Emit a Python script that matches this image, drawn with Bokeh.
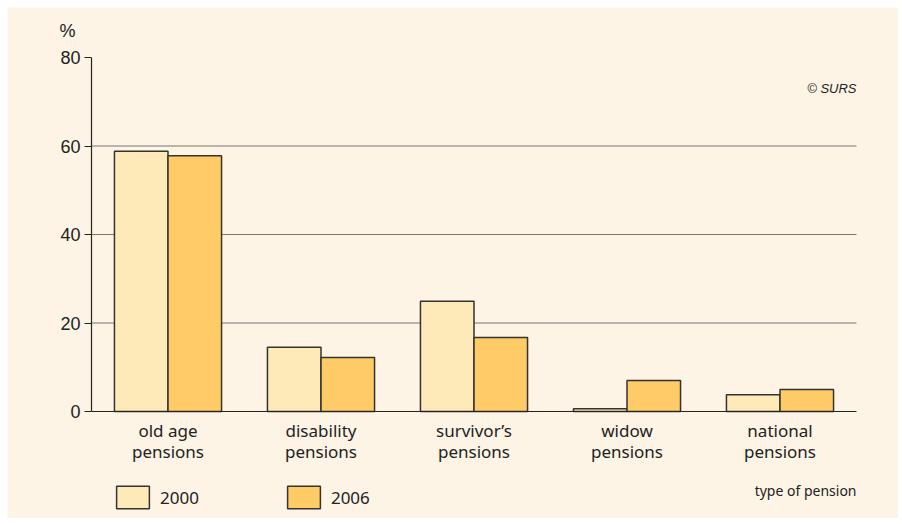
from bokeh.plotting import figure
from bokeh.models import (Range1d, FixedTicker, Label, Legend, LegendItem, ColumnDataSource)
from bokeh.embed import file_html
from bokeh.resources import INLINE

categories = ["old age\npensions", "disability\npensions", "survivor\u2019s\npensions",
              "widow\npensions", "national\npensions"]
positions = [0.5, 1.5, 2.5, 3.5, 4.5]
values_2000 = [58.8, 14.5, 24.9, 0.6, 3.8]
values_2006 = [57.8, 12.2, 16.7, 7.0, 5.0]
y_ticks = [0, 20, 40, 60, 80]
grid_ticks = [20, 40, 60]

BG = "#FDF4E5"
C2000 = "#FEE9B8"
C2006 = "#FECB66"
LINE = "#333333"

W, H = 891, 511
FL, FR, FT, FB = 84, 849, 50, 404   # where data (0..5, 0..80) sits on the canvas
xs = 5 / (FR - FL)
ys = 80 / (FB - FT)

p = figure(width=W, height=H, output_backend="svg", toolbar_location=None,
           x_range=Range1d(-FL * xs, 5 + (W - FR) * xs),
           y_range=Range1d(-(H - FB) * ys, 80 + FT * ys),
           min_border=0, min_border_left=0, min_border_right=0,
           min_border_top=0, min_border_bottom=0, margin=(7, 0, 0, 7))
p.background_fill_color = BG
p.border_fill_color = BG
p.outline_line_color = None
p.xgrid.visible = False
p.ygrid.visible = False

# gridlines
p.segment(x0=[0] * len(grid_ticks), x1=[5] * len(grid_ticks), y0=grid_ticks, y1=grid_ticks,
          line_color="#777777", line_width=1.2)

bw = 0.35
src1 = ColumnDataSource(dict(x=[c - bw / 2 for c in positions], top=values_2000))
src2 = ColumnDataSource(dict(x=[c + bw / 2 for c in positions], top=values_2006))
r1 = p.vbar(x="x", top="top", width=bw, bottom=0, source=src1,
            fill_color=C2000, line_color=LINE, line_width=1.5)
r2 = p.vbar(x="x", top="top", width=bw, bottom=0, source=src2,
            fill_color=C2006, line_color=LINE, line_width=1.5)

# y axis
ya = p.yaxis[0]
ya.fixed_location = 0
ya.bounds = (0, 80)
ya.ticker = FixedTicker(ticks=y_ticks)
ya.axis_line_color = "#222222"
ya.axis_line_width = 1.2
ya.major_tick_line_color = "#222222"
ya.major_tick_out = 7
ya.major_tick_in = 0
ya.minor_tick_line_color = None
ya.major_label_standoff = 4
ya.major_label_text_font = "Liberation Sans"
ya.major_label_text_font_size = "18px"
ya.major_label_text_color = "#222222"

# x axis
xa = p.xaxis[0]
xa.fixed_location = 0
xa.bounds = (0, 5)
xa.ticker = FixedTicker(ticks=positions)
xa.major_label_overrides = {pos: lab for pos, lab in zip(positions, categories)}
xa.axis_line_color = "#222222"
xa.axis_line_width = 1.2
xa.major_tick_line_color = None
xa.minor_tick_line_color = None
xa.major_label_standoff = 1
xa.major_label_text_font = "Noto Sans"
xa.major_label_text_font_size = "17px"
xa.major_label_text_line_height = 0.95
xa.major_label_text_color = "#222222"

# texts
p.add_layout(Label(x=-0.1046, y=86.1, text="%", text_align="right", text_baseline="middle",
                   text_font="Liberation Sans", text_font_size="18px", text_color="#222222"))
p.add_layout(Label(x=5, y=73, text="\u00a9 SURS", text_align="right", text_baseline="middle",
                   text_font="Liberation Sans", text_font_style="italic",
                   text_font_size="13px", text_color="#222222"))
p.add_layout(Label(x=5, y=-17.85, text="type of pension", text_align="right",
                   text_baseline="middle", text_font="Noto Sans", text_font_size="14px",
                   text_color="#222222"))

legend = Legend(items=[LegendItem(label="2000", renderers=[r1]),
                       LegendItem(label="2006", renderers=[r2])],
                orientation="horizontal", location=(105, 7),
                glyph_width=41, glyph_height=28, label_standoff=7, spacing=84,
                padding=0, margin=0, background_fill_alpha=0, border_line_color=None,
                label_text_font="Noto Sans", label_text_font_size="17px",
                label_text_color="#222222")
p.add_layout(legend, "center")

open("out.html", "w").write(file_html(p, INLINE))
